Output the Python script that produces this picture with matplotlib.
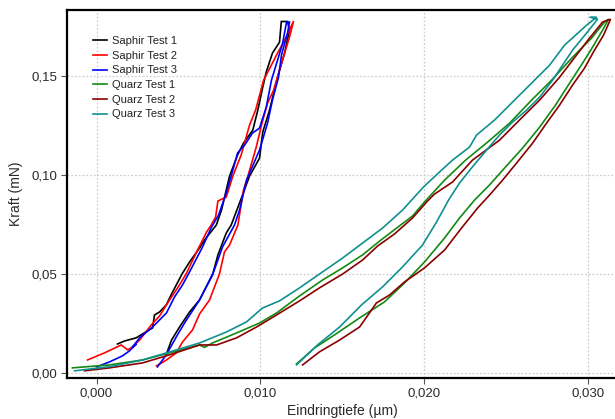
import matplotlib
matplotlib.use("Agg")
import matplotlib.pyplot as plt
from matplotlib.ticker import FixedLocator

plt.rcParams['font.family'] = ['Liberation Sans', 'DejaVu Sans']

# ---------------- data (depth in µm, force in mN) ----------------
saphir1_x = [0.00128, 0.00171, 0.00242, 0.00311, 0.00342, 0.00354, 0.00385, 0.00426, 0.00458,
             0.00523, 0.00568, 0.00629, 0.00659, 0.00731, 0.00763, 0.00812, 0.00861, 0.00897,
             0.00954, 0.00983, 0.01015, 0.01036, 0.01074, 0.01117, 0.01128, 0.01166,
             0.01178, 0.01148, 0.01105, 0.01056, 0.01015, 0.00995, 0.00934, 0.00873, 0.00822,
             0.00792, 0.00741, 0.00710, 0.00629, 0.00568, 0.00507, 0.00458, 0.00427]
saphir1_y = [0.0145, 0.0160, 0.0176, 0.0211, 0.0226, 0.0292, 0.0307, 0.0343, 0.0398,
             0.0501, 0.0560, 0.0631, 0.0671, 0.0747, 0.0823, 0.0995, 0.1102, 0.1162,
             0.1228, 0.1324, 0.1446, 0.1522, 0.1618, 0.1673, 0.1778, 0.1778,
             0.1734, 0.1618, 0.1496, 0.1329, 0.1219, 0.1086, 0.0995, 0.0859, 0.0747,
             0.0707, 0.0596, 0.0501, 0.0368, 0.0307, 0.0231, 0.0165, 0.0095]

saphir2_x = [-0.00055, 0.00049, 0.00151, 0.00191, 0.00222, 0.00263, 0.00334, 0.00385, 0.00446,
             0.00495, 0.00548, 0.00611, 0.00672, 0.00700, 0.00727, 0.00741, 0.00792, 0.00832,
             0.00883, 0.00934, 0.00971, 0.01020, 0.01105, 0.01148, 0.01203,
             0.01178, 0.01117, 0.01081, 0.01044, 0.01007, 0.00975, 0.00924, 0.00897, 0.00863,
             0.00812, 0.00781, 0.00751, 0.00690, 0.00629, 0.00586, 0.00525, 0.00487, 0.00427,
             0.00366]
saphir2_y = [0.0064, 0.0100, 0.0140, 0.0115, 0.0132, 0.0165, 0.0241, 0.0287, 0.0368,
             0.0429, 0.0501, 0.0611, 0.0712, 0.0747, 0.0788, 0.0869, 0.0889, 0.0995,
             0.1102, 0.1253, 0.1329, 0.1481, 0.1618, 0.1683, 0.1780,
             0.1699, 0.1532, 0.1430, 0.1365, 0.1253, 0.1142, 0.0995, 0.0924, 0.0747,
             0.0646, 0.0611, 0.0501, 0.0368, 0.0297, 0.0216, 0.0155, 0.0100, 0.0064,
             0.0034]

saphir3_x = [0.00000, 0.00079, 0.00159, 0.00201, 0.00244, 0.00220, 0.00263, 0.00342, 0.00427,
             0.00476, 0.00525, 0.00568, 0.00647, 0.00702, 0.00745, 0.00792, 0.00822, 0.00861,
             0.00904, 0.00952, 0.00995, 0.01036, 0.01068, 0.01105, 0.01136, 0.01160, 0.01178,
             0.01166, 0.01129, 0.01111, 0.01074, 0.01044, 0.00995, 0.00916, 0.00873, 0.00842,
             0.00769, 0.00745, 0.00708, 0.00629, 0.00537, 0.00487, 0.00426, 0.00372]
saphir3_y = [0.0029, 0.0054, 0.0085, 0.0110, 0.0145, 0.0130, 0.0176, 0.0231, 0.0302,
             0.0383, 0.0444, 0.0510, 0.0636, 0.0737, 0.0798, 0.0909, 0.0995, 0.1112,
             0.1152, 0.1213, 0.1238, 0.1344, 0.1481, 0.1582, 0.1668, 0.1775, 0.1775,
             0.1719, 0.1608, 0.1496, 0.1380, 0.1263, 0.1127, 0.0975, 0.0823, 0.0747,
             0.0636, 0.0580, 0.0494, 0.0368, 0.0251, 0.0181, 0.0090, 0.0029]

quarz1_x = [-0.00147, 0.00079, 0.00281, 0.00446, 0.00629, 0.00659, 0.00708, 0.00855, 0.00995,
            0.01099, 0.01239, 0.01380, 0.01502, 0.01624, 0.01728, 0.01832, 0.01929, 0.02002,
            0.02125, 0.02253, 0.02387, 0.02521, 0.02656, 0.02778, 0.02906, 0.03022, 0.03101,
            0.03126,
            0.03089, 0.03028, 0.02967, 0.02888, 0.02802, 0.02705, 0.02601, 0.02491, 0.02399,
            0.02308, 0.02216, 0.02125, 0.02002, 0.01880, 0.01758, 0.01606, 0.01453, 0.01331,
            0.01221]
quarz1_y = [0.0024, 0.0039, 0.0064, 0.0100, 0.0140, 0.0128, 0.0150, 0.0201, 0.0251,
            0.0302, 0.0388, 0.0469, 0.0530, 0.0596, 0.0666, 0.0732, 0.0793, 0.0864,
            0.0975, 0.1076, 0.1167, 0.1263, 0.1380, 0.1481, 0.1597, 0.1694, 0.1775,
            0.1790,
            0.1734, 0.1648, 0.1567, 0.1466, 0.1355, 0.1243, 0.1137, 0.1036, 0.0950,
            0.0874, 0.0783, 0.0682, 0.0560, 0.0454, 0.0358, 0.0277, 0.0191, 0.0125,
            0.0044]

quarz2_x = [-0.00073, 0.00079, 0.00281, 0.00446, 0.00629, 0.00733, 0.00855, 0.00977, 0.01099,
            0.01239, 0.01361, 0.01502, 0.01624, 0.01716, 0.01819, 0.01929, 0.02015, 0.02063,
            0.02173, 0.02295, 0.02460, 0.02582, 0.02705, 0.02827, 0.02930, 0.03010, 0.03089,
            0.03138,
            0.03095, 0.03040, 0.02979, 0.02906, 0.02827, 0.02747, 0.02662, 0.02564, 0.02479,
            0.02399, 0.02326, 0.02228, 0.02125, 0.02002, 0.01880, 0.01789, 0.01709, 0.01606,
            0.01484, 0.01361, 0.01258]
quarz2_y = [0.0009, 0.0024, 0.0049, 0.0090, 0.0140, 0.0140, 0.0176, 0.0231, 0.0292,
            0.0363, 0.0429, 0.0499, 0.0570, 0.0641, 0.0702, 0.0783, 0.0864, 0.0904,
            0.0965, 0.1076, 0.1177, 0.1279, 0.1380, 0.1496, 0.1608, 0.1694, 0.1775,
            0.1790,
            0.1709, 0.1633, 0.1542, 0.1456, 0.1355, 0.1263, 0.1162, 0.1061, 0.0975,
            0.0899, 0.0833, 0.0732, 0.0621, 0.0530, 0.0459, 0.0393, 0.0353, 0.0231,
            0.0165, 0.0105, 0.0039]

quarz3_x = [-0.00134, 0.00079, 0.00281, 0.00427, 0.00629, 0.00794, 0.00916, 0.01013, 0.01117,
            0.01239, 0.01380, 0.01502, 0.01624, 0.01746, 0.01868, 0.01996, 0.02094, 0.02173,
            0.02277, 0.02320, 0.02430, 0.02582, 0.02766, 0.02857, 0.02991, 0.03053, 0.03010,
            0.03059,
            0.02991, 0.02906, 0.02845, 0.02784, 0.02705, 0.02625, 0.02540, 0.02460, 0.02381,
            0.02289, 0.02216, 0.02149, 0.02076, 0.01990, 0.01868, 0.01746, 0.01618, 0.01484,
            0.01349, 0.01221]
quarz3_y = [0.0009, 0.0030, 0.0064, 0.0100, 0.0150, 0.0206, 0.0257, 0.0327, 0.0363,
            0.0429, 0.0510, 0.0580, 0.0656, 0.0732, 0.0823, 0.0940, 0.1016, 0.1076,
            0.1142, 0.1203, 0.1279, 0.1405, 0.1557, 0.1658, 0.1759, 0.1800, 0.1800,
            0.1790,
            0.1719, 0.1633, 0.1557, 0.1481, 0.1395, 0.1329, 0.1269, 0.1203, 0.1127,
            0.1036, 0.0960, 0.0874, 0.0763, 0.0646, 0.0535, 0.0434, 0.0343, 0.0231,
            0.0140, 0.0039]

series_labels = ["Saphir Test 1", "Saphir Test 2", "Saphir Test 3",
                 "Quarz Test 1", "Quarz Test 2", "Quarz Test 3"]
series_colors = ["#000000", "#ff0000", "#0000ff", "#138a13", "#8b0000", "#119090"]

x_ticks = [0.0, 0.01, 0.02, 0.03]
x_ticklabels = ["0,000", "0,010", "0,020", "0,030"]
y_ticks = [0.0, 0.05, 0.10, 0.15]
y_ticklabels = ["0,00", "0,05", "0,10", "0,15"]

# ---------------- figure ----------------
fig = plt.figure(figsize=(6.15, 4.19), dpi=100)
ax = fig.add_axes([0.109, 0.098, 0.895, 0.879])

series = [(saphir1_x, saphir1_y), (saphir2_x, saphir2_y), (saphir3_x, saphir3_y),
          (quarz1_x, quarz1_y), (quarz2_x, quarz2_y), (quarz3_x, quarz3_y)]
for (xs, ys), lab, col in zip(series, series_labels, series_colors):
    ax.plot(xs, ys, color=col, lw=1.2, label=lab, solid_joinstyle='miter')

ax.set_xlim(-0.0018, 0.0318)
ax.set_ylim(-0.0027, 0.1838)

ax.xaxis.set_major_locator(FixedLocator(x_ticks))
ax.set_xticklabels(x_ticklabels)
ax.yaxis.set_major_locator(FixedLocator(y_ticks))
ax.set_yticklabels(y_ticklabels)

ax.grid(True, color='#cfcfcf', linestyle=(0, (1.5, 1.5)), lw=0.9)
ax.set_axisbelow(True)

for side in ['left', 'bottom', 'top']:
    ax.spines[side].set_color('#000000')
    ax.spines[side].set_linewidth(1.6)
ax.spines['right'].set_visible(False)

ax.tick_params(axis='both', which='major', length=4, width=0.8, color='#555555',
               labelsize=9.5, labelcolor='#2a2a2a', pad=3)

ax.set_xlabel("Eindringtiefe (µm)", fontsize=10, color='#2a2a2a', labelpad=3)
ax.set_ylabel("Kraft (mN)", fontsize=10, color='#2a2a2a', labelpad=6)

leg = ax.legend(loc='upper left', bbox_to_anchor=(0.047, 0.928), frameon=False,
                fontsize=8, handlelength=1.25, handletextpad=0.5, labelspacing=0.42,
                borderpad=0, borderaxespad=0)
for t in leg.get_texts():
    t.set_color('#222222')

fig.savefig("out.png", dpi=100)
